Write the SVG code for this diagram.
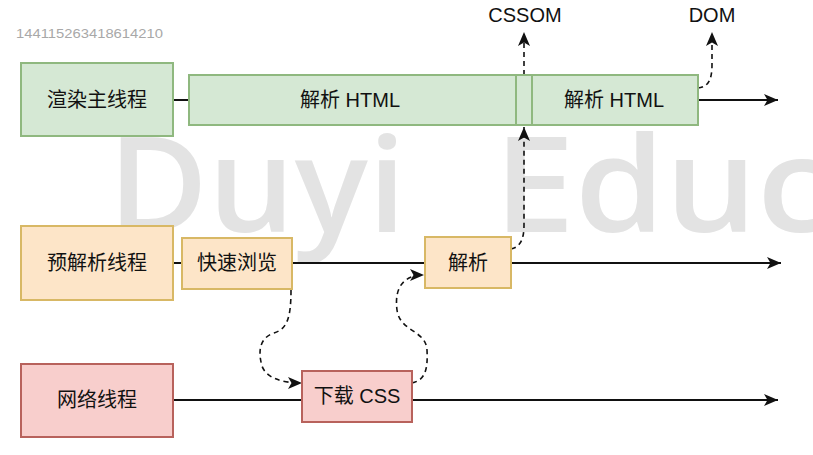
<svg xmlns="http://www.w3.org/2000/svg" width="813" height="455" viewBox="0 0 813 455">
<style>
text{font-family:"Liberation Sans","Noto Sans CJK SC",sans-serif;fill:#111}
.lbl{font-size:20px;text-anchor:middle}
.g{fill:#d5e8d4;stroke:#8fb87f;stroke-width:2}
.o{fill:#fde5c8;stroke:#d8b865;stroke-width:2}
.r{fill:#f8cecc;stroke:#b8625c;stroke-width:2}
.ln{fill:none;stroke:#111;stroke-width:2}
.dash{fill:none;stroke:#111;stroke-width:1.6;stroke-dasharray:5 4}
.wm{font-family:"Open Sans","Liberation Sans",sans-serif;font-weight:600;font-size:132px;fill:#e3e3e3}
</style>
<defs>
<marker id="arr" markerUnits="userSpaceOnUse" markerWidth="15" markerHeight="13" refX="14" refY="6" orient="auto" viewBox="0 0 15 12">
<path d="M0,0 L14,6 L0,12 L3.5,6 z" fill="#111"/>
</marker>
</defs>
<rect width="813" height="455" fill="#fff"/>
<g id="watermark">
<text class="wm" x="108" y="232" textLength="298" lengthAdjust="spacingAndGlyphs">Duyi</text>
<text class="wm" x="494" y="232" textLength="335" lengthAdjust="spacingAndGlyphs">Educ</text>
<text x="16" y="38" font-size="13" style="fill:#a8a8a8" textLength="147" lengthAdjust="spacingAndGlyphs">144115263418614210</text>
</g>
<g id="connectors">
<path class="ln" d="M173,100 H189"/>
<path class="ln" d="M698,100 H778" marker-end="url(#arr)"/>
<path class="ln" d="M173,263 H182"/>
<path class="ln" d="M292,263 H425"/>
<path class="ln" d="M511,263 H781" marker-end="url(#arr)"/>
<path class="ln" d="M173,400 H302"/>
<path class="ln" d="M412,400 H778" marker-end="url(#arr)"/>
<path class="dash" d="M291,290 C291,318 287,329 274,333 C259,338 258,352 262,366 C266,378 282,383 302,383" marker-end="url(#arr)"/>
<path class="dash" d="M412,383 C425,380 428,370 427,350 C426,330 400,332 397,310 C394,287 404,275 424,275" marker-end="url(#arr)"/>
<path class="dash" d="M511,249 C520,247 524,240 524,225 L524,127" marker-end="url(#arr)"/>
<path class="dash" d="M524,75 L524,32" marker-end="url(#arr)"/>
<path class="dash" d="M698,88 C708,87 712,80 712,65 L712,32" marker-end="url(#arr)"/>
</g>
<g id="main-thread"><rect class="g" x="21" y="63" width="152" height="73"/><text class="lbl" x="97" y="107">渲染主线程</text></g>
<g id="parse-html-1"><rect class="g" x="189" y="75" width="327" height="50"/><text class="lbl" x="350" y="107">解析 HTML</text></g>
<g id="parse-css-slot"><rect class="g" x="516" y="75" width="16" height="50"/></g>
<g id="parse-html-2"><rect class="g" x="532" y="75" width="166" height="50"/><text class="lbl" x="614" y="107">解析 HTML</text></g>
<g id="cssom"><text class="lbl" x="525" y="22">CSSOM</text></g>
<g id="dom"><text class="lbl" x="712" y="22">DOM</text></g>
<g id="preparse-thread"><rect class="o" x="21" y="226" width="152" height="74"/><text class="lbl" x="97" y="270">预解析线程</text></g>
<g id="quick-browse"><rect class="o" x="182" y="238" width="110" height="51"/><text class="lbl" x="237" y="270">快速浏览</text></g>
<g id="parse"><rect class="o" x="425" y="237" width="86" height="51"/><text class="lbl" x="468" y="270">解析</text></g>
<g id="network-thread"><rect class="r" x="21" y="364" width="152" height="73"/><text class="lbl" x="97" y="407">网络线程</text></g>
<g id="download-css"><rect class="r" x="302" y="371" width="110" height="51"/><text class="lbl" x="357" y="403">下载 CSS</text></g>
</svg>
